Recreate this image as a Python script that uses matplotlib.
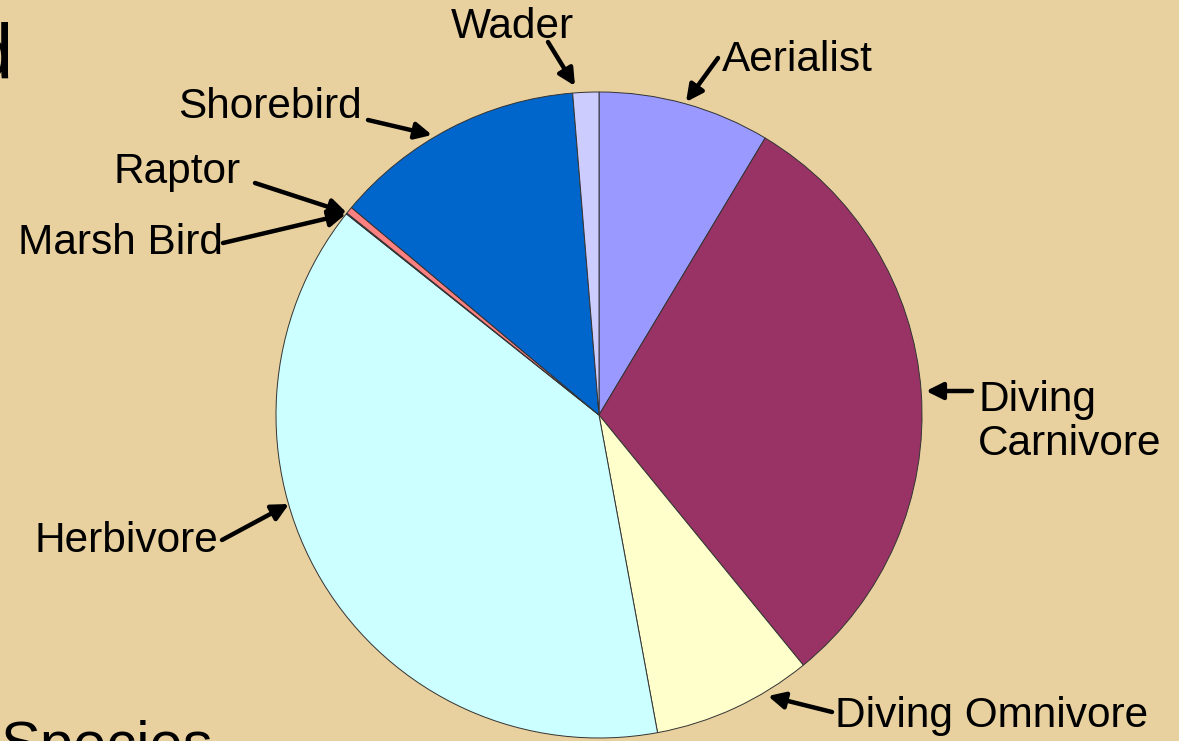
import matplotlib.pyplot as plt

W, H = 1179, 741

# bird guild shares (%), clockwise from 12 o'clock
guilds = ["Aerialist", "Diving Carnivore", "Diving Omnivore", "Herbivore",
          "Marsh Bird", "Raptor", "Shorebird", "Wader"]
shares = [8.6, 30.5, 8.0, 38.6, 0.05, 0.35, 12.6, 1.3]
colors = ["#9999FF", "#993366", "#FFFFCC", "#CCFFFF",
          "#660066", "#FF8080", "#0066CC", "#CCCCFF"]

# label text position, alignment, arrow tail, arrow head (pixels, top-left origin)
label_text = ["Aerialist", "Diving\nCarnivore", "Diving Omnivore", "Herbivore",
              "Marsh Bird", "Raptor", "Shorebird", "Wader"]
label_pos = [(722, 60, "left"), (978, 422, "left"), (835, 716, "left"), (218, 541, "right"),
             (223, 243, "right"), (241, 172, "right"), (362, 107, "right"), (512, 27, "center")]
arrow_tail = [(718, 58), (972, 391), (832, 712), (222, 540),
              (223, 243), (255, 183), (368, 120), (548, 42)]
arrow_head = [(686, 102), (926, 391), (768, 696), (289, 504),
              (346, 214), (347, 213), (432, 135), (575, 86)]

bg = "#E8D19E"
fig = plt.figure(figsize=(W / 100, H / 100), dpi=100)
fig.patch.set_facecolor(bg)
ax = fig.add_axes([0, 0, 1, 1])

cx, cy, r = 599, 415, 323
ax.pie(shares, colors=colors, startangle=90, counterclock=False,
       center=(cx, H - cy), radius=r, frame=True,
       wedgeprops=dict(edgecolor="#333333", linewidth=0.7))
ax.set_xlim(0, W)
ax.set_ylim(0, H)
ax.set_aspect("equal")
ax.axis("off")

font = ["Liberation Sans", "DejaVu Sans"]
for txt, (x, y, ha), (tx, ty), (hx, hy) in zip(label_text, label_pos, arrow_tail, arrow_head):
    ax.text(x, H - y, txt, ha=ha, va="center", fontsize=30.5, family=font,
            linespacing=1.15)
    ax.annotate("", xy=(hx, H - hy), xytext=(tx, H - ty),
                arrowprops=dict(arrowstyle="-|>,head_length=1.0,head_width=0.5",
                                color="black", lw=3.2, shrinkA=0, shrinkB=0))

# bits of the slide behind the chart
ax.text(13, H - 58, "d", ha="right", va="center", fontsize=56, family=font)
ax.text(0, H - 763, "Species", ha="left", va="baseline", fontsize=43, family=font,
        clip_on=False)

fig.savefig("out.png", dpi=100, facecolor=bg)
